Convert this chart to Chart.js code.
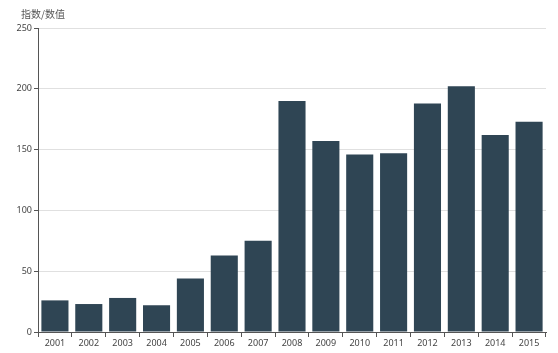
<!DOCTYPE html>
<html>
<head>
<meta charset="utf-8">
<script src="https://cdn.jsdelivr.net/npm/chart.js@4"></script>
<style>
html,body{margin:0;padding:0;background:#fff;}
#wrap{width:558px;height:353px;position:relative;}
</style>
</head>
<body>
<div id="wrap"><canvas id="c" width="558" height="353"></canvas></div>
<script>
const categories = ["2001","2002","2003","2004","2005","2006","2007","2008","2009","2010","2011","2012","2013","2014","2015"];
const values = [26, 23, 28, 22, 44, 63, 75, 190, 157, 146, 147, 188, 202, 162, 173];
const yTicks = [0, 50, 100, 150, 200, 250];
const yAxisName = "指数/数值";

const axisNamePlugin = {
  id: 'axisName',
  afterDraw(chart) {
    const ctx = chart.ctx;
    ctx.save();
    ctx.font = '10px "Noto Sans CJK SC", sans-serif';
    ctx.fillStyle = '#555';
    ctx.textBaseline = 'middle';
    ctx.textAlign = 'left';
    ctx.fillText(yAxisName, 21, 14);
    ctx.restore();
  }
};

new Chart(document.getElementById('c'), {
  type: 'bar',
  data: {
    labels: categories,
    datasets: [{
      data: values,
      backgroundColor: '#2f4554',
      borderWidth: 0,
      barPercentage: 0.8,
      categoryPercentage: 1.0
    }]
  },
  options: {
    responsive: false,
    animation: false,
    devicePixelRatio: 1,
    layout: { padding: { top: 28, right: 12, left: 0, bottom: 0 } },
    plugins: { legend: { display: false }, tooltip: { enabled: false }, title: { display: false } },
    scales: {
      x: {
        offset: true,
        grid: { display: true, drawOnChartArea: false, offset: true, tickLength: 5, tickColor: '#555', lineWidth: 1 },
        border: { color: '#555', width: 1 },
        ticks: { color: '#444', font: { family: '"Noto Sans", sans-serif', size: 9 }, padding: 1, maxRotation: 0, autoSkip: false },
        afterFit(scale) { scale.height = 21; }
      },
      y: {
        min: 0,
        max: 250,
        afterBuildTicks(scale) { scale.ticks = yTicks.map(v => ({ value: v })); },
        grid: { color: '#e0e0e0', tickColor: '#555', tickLength: 4, lineWidth: 1 },
        border: { color: '#555', width: 1 },
        ticks: { color: '#444', font: { family: '"Noto Sans", sans-serif', size: 9 }, padding: 2 },
        afterFit(scale) { scale.width = 38; }
      }
    }
  },
  plugins: [axisNamePlugin]
});
</script>
</body>
</html>
